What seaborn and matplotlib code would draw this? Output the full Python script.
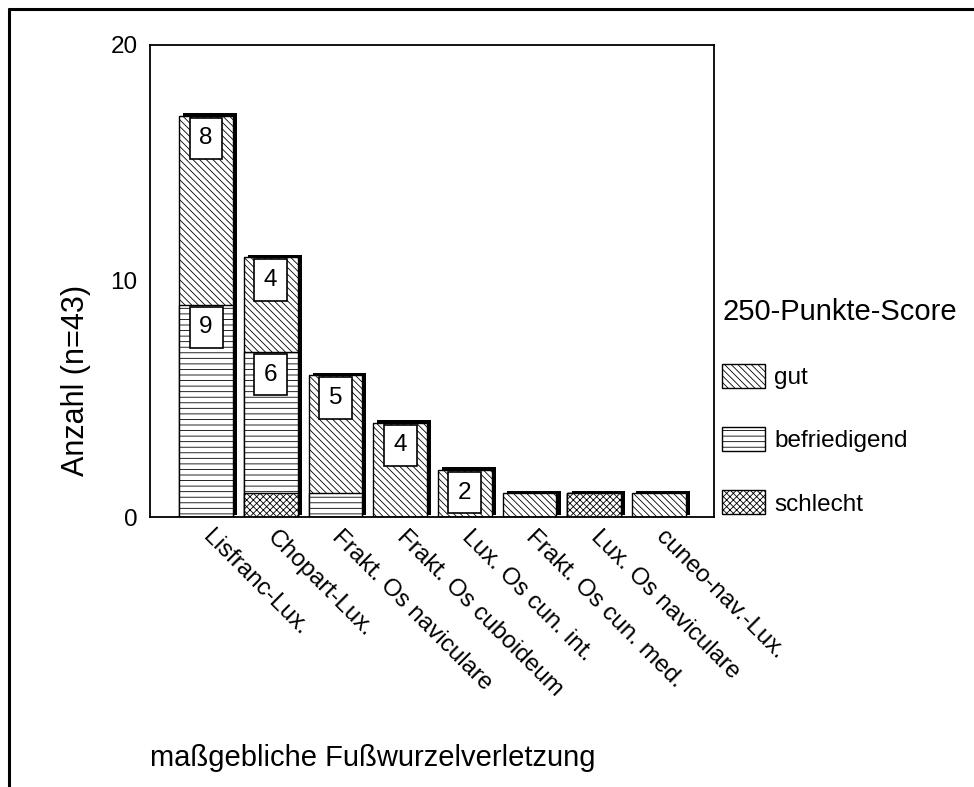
import matplotlib
matplotlib.use('Agg')
import numpy as np
import matplotlib.pyplot as plt
import matplotlib.patheffects as pe
from matplotlib.patches import Patch
from matplotlib.lines import Line2D
import seaborn as sns

# Daten
verletzung = ['Lisfranc-Lux.', 'Chopart-Lux.', 'Frakt. Os naviculare', 'Frakt. Os cuboideum',
              'Lux. Os cun. int.', 'Frakt. Os cun. med.', 'Lux. Os naviculare', 'cuneo-nav.-Lux.']
gut = [8, 4, 5, 4, 2, 1, 0, 1]
befriedigend = [9, 6, 1, 0, 0, 0, 0, 0]
schlecht = [0, 1, 0, 0, 0, 0, 1, 0]
score_namen = ['gut', 'befriedigend', 'schlecht']
y_ticks = [0, 10, 20]

sns.set_style('white')
plt.rcParams['font.family'] = ['Liberation Sans', 'DejaVu Sans']
plt.rcParams['hatch.linewidth'] = 0.6
plt.rcParams['hatch.color'] = 'black'
plt.rcParams['text.color'] = 'black'
plt.rcParams['axes.labelcolor'] = 'black'
plt.rcParams['xtick.color'] = 'black'
plt.rcParams['ytick.color'] = 'black'

fig = plt.figure(figsize=(9.74, 7.87), dpi=100)
ax = fig.add_axes([0.154, 0.343, 0.579, 0.600])

s = np.array(schlecht)
b = np.array(befriedigend)
g = np.array(gut)
gesamt = s + b + g

muster = {'gut': '\\\\\\\\\\', 'befriedigend': '---', 'schlecht': 'xxxxx'}

# gestapelte Balken: von oben nach unten übereinander zeichnen
schichten = [(gesamt, muster['gut']), (s + b, muster['befriedigend']), (s, muster['schlecht'])]
for nr, (hoehe, h) in enumerate(schichten):
    sns.barplot(x=verletzung, y=hoehe, order=verletzung, color='white', saturation=1,
                width=0.83, edgecolor='black', linewidth=1, hatch=h, ax=ax)
    if nr == 0:
        # 3D-Effekt: schwarzer Schatten oben rechts
        for balken in ax.containers[-1]:
            balken.set_path_effects([pe.SimplePatchShadow(offset=(3, 1.8), shadow_rgbFace='black', alpha=1.0),
                                     pe.Normal()])

# Zahlen in Kästchen
for i in range(len(verletzung)):
    for wert, oben in [(g[i], gesamt[i]), (b[i], s[i] + b[i]), (s[i], s[i])]:
        if wert >= 2:
            ax.annotate(str(wert), xy=(i, oben), xytext=(0, -8.5), textcoords='offset points',
                        ha='center', va='top', fontsize=17.5, zorder=6,
                        bbox=dict(boxstyle='square,pad=0.4', fc='white', ec='black', lw=1.2))

ax.set_xlim(-0.866, 7.85)
ax.set_ylim(0, 20)
ax.set_yticks(y_ticks)
ax.set_xticks(range(len(verletzung)))
ax.set_xticklabels(verletzung, rotation=-45, ha='left', va='center', rotation_mode='anchor')
ax.tick_params(axis='both', direction='out', length=3, width=2.5, labelsize=17.5, color='black')
ax.tick_params(axis='x', pad=9)
ax.tick_params(axis='y', pad=6)

for sp in ax.spines.values():
    sp.set_color('black')
    sp.set_linewidth(1.3)

ax.set_ylabel('Anzahl (n=43)', fontsize=22)
ax.yaxis.set_label_coords(-0.105, 0.29)
ax.set_xlabel('maßgebliche Fußwurzelverletzung', fontsize=21, ha='left')
ax.xaxis.set_label_coords(0.0, -0.48)

# Legende
handles = [Patch(facecolor='white', edgecolor='black', hatch=muster[n], linewidth=1) for n in score_namen]
ax.legend(handles, score_namen, title='250-Punkte-Score', loc='upper left',
          bbox_to_anchor=(722 / 974, 1 - 298 / 787), bbox_transform=fig.transFigure,
          frameon=False, fontsize=17.5, title_fontsize=21, handlelength=1.75, handleheight=1.15,
          handletextpad=0.4, labelspacing=1.56, borderpad=0, borderaxespad=0, alignment='left')

# Rahmen oben und links
fig.add_artist(Line2D([9 / 974, 1], [1 - 9 / 787, 1 - 9 / 787], transform=fig.transFigure, color='black', lw=2.2))
fig.add_artist(Line2D([9 / 974, 9 / 974], [0, 1 - 9 / 787], transform=fig.transFigure, color='black', lw=2.2))

fig.savefig('out.png', dpi=100)
